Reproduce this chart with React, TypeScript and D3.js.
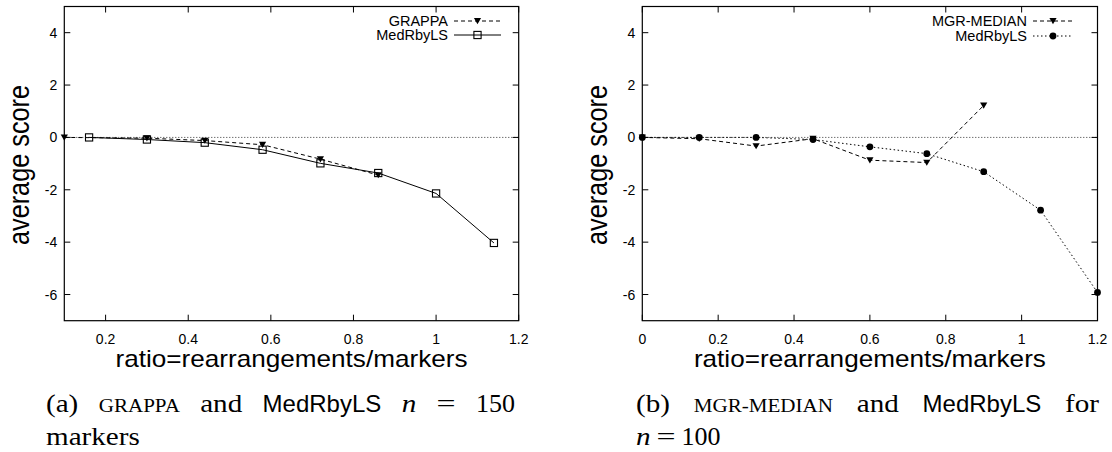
import React from "react";
import * as d3 from "d3";

// ---------- data ----------
const grappaX = [0.1, 0.3, 0.44, 0.58, 0.72, 0.86];
const grappaY = [0, -0.03, -0.12, -0.28, -0.83, -1.44];
const medLeftX = [0.16, 0.3, 0.44, 0.58, 0.72, 0.86, 1.0, 1.14];
const medLeftY = [0, -0.08, -0.2, -0.47, -0.99, -1.36, -2.14, -4.03];

const mgrX = [0, 0.15, 0.3, 0.45, 0.6, 0.75, 0.9];
const mgrY = [0, -0.05, -0.33, -0.05, -0.87, -0.96, 1.22];
const medRightX = [0, 0.15, 0.3, 0.45, 0.6, 0.75, 0.9, 1.05, 1.2];
const medRightY = [0, 0, 0, -0.08, -0.36, -0.62, -1.31, -2.78, -5.92];

const yTicks = [-6, -4, -2, 0, 2, 4];
const xTicksLeft = [0.2, 0.4, 0.6, 0.8, 1.0, 1.2];
const xTicksRight = [0, 0.2, 0.4, 0.6, 0.8, 1.0, 1.2];
const xTitle = "ratio=rearrangements/markers";
const yTitle = "average score";

const W = 1112;
const H = 452;
const SANS = "'Liberation Sans', Arial, Helvetica, sans-serif";
const SERIF = "'Liberation Serif', 'Times New Roman', Times, serif";

type Series = {
  name: string;
  xs: number[];
  ys: number[];
  dash: string;
  marker: "tri" | "sq" | "dot";
};

type Tok = { t: string; kind: "rm" | "sc" | "sf" | "it" };
const capA1: Tok[] = [
  { t: "(a)", kind: "rm" },
  { t: "GRAPPA", kind: "sc" },
  { t: "and", kind: "rm" },
  { t: "MedRbyLS", kind: "sf" },
  { t: "n", kind: "it" },
  { t: "=", kind: "rm" },
  { t: "150", kind: "rm" },
];
const capA2: Tok[] = [{ t: "markers", kind: "rm" }];
const capB1: Tok[] = [
  { t: "(b)", kind: "rm" },
  { t: "MGR-MEDIAN", kind: "sc" },
  { t: "and", kind: "rm" },
  { t: "MedRbyLS", kind: "sf" },
  { t: "for", kind: "rm" },
];
const capB2: Tok[] = [
  { t: "n", kind: "it" },
  { t: "=", kind: "rm" },
  { t: "100", kind: "rm" },
];

const tokFont = (k: string) => {
  if (k === "sc") return { family: SERIF, size: 19.5, style: "normal" };
  if (k === "sf") return { family: SANS, size: 24, style: "normal" };
  if (k === "it") return { family: SERIF, size: 26, style: "italic" };
  return { family: SERIF, size: 26, style: "normal" };
};
// Computer Modern is wider than Times: widen glyphs a little
const widen = (tok: Tok) => {
  if (tok.kind === "sf") return 1;
  if (/^[0-9]+$/.test(tok.t)) return 1.0;
  if (tok.t === "=") return 1.3;
  if (tok.kind === "sc") return 1.08;
  return 1.12;
};

let ctx: CanvasRenderingContext2D | null = null;
function measure(tok: Tok) {
  const f = tokFont(tok.kind);
  if (!ctx) {
    const c = document.createElement("canvas");
    ctx = c.getContext("2d");
  }
  if (!ctx) return tok.t.length * f.size * 0.5;
  ctx.font = `${f.style} ${f.size}px ${f.family}`;
  return ctx.measureText(tok.t).width;
}

function CaptionLine({
  toks,
  x0,
  x1,
  y,
  justify,
  gap,
}: {
  toks: Tok[];
  x0: number;
  x1: number;
  y: number;
  justify: boolean;
  gap: number;
}) {
  const nat = toks.map(measure);
  const widths = toks.map((tk, i) => nat[i] * widen(tk));
  const total = widths.reduce((a, b) => a + b, 0);
  const g = justify && toks.length > 1 ? (x1 - x0 - total) / (toks.length - 1) : gap;
  let cur = x0;
  return (
    <g>
      {toks.map((tk, i) => {
        const f = tokFont(tk.kind);
        const xx = cur;
        cur += widths[i] + g;
        return (
          <text
            key={i}
            x={xx}
            y={y}
            fontFamily={f.family}
            fontSize={f.size}
            fontStyle={f.style}
            textLength={widths[i]}
            lengthAdjust="spacingAndGlyphs"
          >
            {tk.t}
          </text>
        );
      })}
    </g>
  );
}

function Marker({ kind, x, y }: { kind: string; x: number; y: number }) {
  if (kind === "tri") {
    const s = 3.6;
    return (
      <path
        d={`M${x - s},${y - s * 0.8}L${x + s},${y - s * 0.8}L${x},${y + s * 0.9}Z`}
        fill="#000"
      />
    );
  }
  if (kind === "sq") {
    return (
      <rect x={x - 3.6} y={y - 3.6} width={7.2} height={7.2} fill="none" stroke="#000" strokeWidth={1.1} />
    );
  }
  return <circle cx={x} cy={y} r={3.4} fill="#000" />;
}

function Panel({
  x0,
  x1,
  domain,
  xTicks,
  series,
  legendRight,
  legendSampleW,
  legendRows,
  titleOffset,
}: {
  x0: number;
  x1: number;
  domain: [number, number];
  xTicks: number[];
  series: Series[];
  legendRight: number;
  legendSampleW: number;
  legendRows: number[];
  titleOffset: number;
}) {
  const y0 = 320.7;
  const yTop = 6.5;
  const x = d3.scaleLinear().domain(domain).range([x0, x1]);
  const y = d3.scaleLinear().domain([-7, 5]).range([y0, yTop]);
  const line = d3
    .line<[number, number]>()
    .x((d) => x(d[0]))
    .y((d) => y(d[1]));
  const tl = 6;
  const fmt = (v: number) => (v === 0 ? "0" : v === 1 ? "1" : d3.format("")(v));
  const cx = (x0 + x1) / 2;
  return (
    <g>
      <line x1={x0} x2={x1} y1={y(0)} y2={y(0)} stroke="#000" strokeWidth={0.8} strokeDasharray="1,2" />
      {yTicks.map((t) => (
        <g key={"y" + t}>
          <line x1={x0} x2={x0 + tl} y1={y(t)} y2={y(t)} stroke="#000" />
          <line x1={x1} x2={x1 - tl} y1={y(t)} y2={y(t)} stroke="#000" />
          <text x={x0 - 7} y={y(t)} dy="0.36em" textAnchor="end" fontFamily={SANS} fontSize={14}>
            {t}
          </text>
        </g>
      ))}
      {xTicks.map((t) => (
        <g key={"x" + t}>
          <line x1={x(t)} x2={x(t)} y1={y0} y2={y0 - tl} stroke="#000" />
          <line x1={x(t)} x2={x(t)} y1={yTop} y2={yTop + tl} stroke="#000" />
          <text x={x(t)} y={344} textAnchor="middle" fontFamily={SANS} fontSize={14}>
            {fmt(t)}
          </text>
        </g>
      ))}
      <rect x={x0} y={yTop} width={x1 - x0} height={y0 - yTop} fill="none" stroke="#000" strokeWidth={1.2} />
      {series.map((s, i) => {
        const pts = s.xs.map((v, j) => [v, s.ys[j]] as [number, number]);
        return (
          <g key={s.name + i}>
            <path d={line(pts) || ""} fill="none" stroke="#000" strokeWidth={1} strokeDasharray={s.dash} />
            {pts.map((p, j) => (
              <Marker key={j} kind={s.marker} x={x(p[0])} y={y(p[1])} />
            ))}
          </g>
        );
      })}
      {series.map((s, i) => {
        const ly = legendRows[i];
        const sx0 = legendRight - legendSampleW;
        return (
          <g key={"lg" + i}>
            <text x={sx0 - 6} y={ly} dy="0.35em" textAnchor="end" fontFamily={SANS} fontSize={14.5}>
              {s.name}
            </text>
            <line x1={sx0} x2={legendRight} y1={ly} y2={ly} stroke="#000" strokeDasharray={s.dash} />
            <Marker kind={s.marker} x={sx0 + legendSampleW / 2} y={ly} />
          </g>
        );
      })}
      <text
        x={cx}
        y={367}
        textAnchor="middle"
        fontFamily={SANS}
        fontSize={24}
        textLength={352}
        lengthAdjust="spacingAndGlyphs"
      >
        {xTitle}
      </text>
      <text
        transform={`translate(${x0 - titleOffset},${165}) rotate(-90)`}
        textAnchor="middle"
        fontFamily={SANS}
        fontSize={29}
        textLength={160}
        lengthAdjust="spacingAndGlyphs"
      >
        {yTitle}
      </text>
    </g>
  );
}

export default function App() {
  const leftSeries: Series[] = [
    { name: "GRAPPA", xs: grappaX, ys: grappaY, dash: "4,3", marker: "tri" },
    { name: "MedRbyLS", xs: medLeftX, ys: medLeftY, dash: "", marker: "sq" },
  ];
  const rightSeries: Series[] = [
    { name: "MGR-MEDIAN", xs: mgrX, ys: mgrY, dash: "4,3", marker: "tri" },
    { name: "MedRbyLS", xs: medRightX, ys: medRightY, dash: "1.5,2.5", marker: "dot" },
  ];
  const l1 = 412;
  const l2 = 445;
  return (
    <svg width={W} height={H} style={{ position: "absolute", left: 0, top: 0, background: "#fff" }}>
      <rect width={W} height={H} fill="#fff" />
      <Panel
        x0={64.3}
        x1={518.7}
        domain={[0.1, 1.2]}
        xTicks={xTicksLeft}
        series={leftSeries}
        legendRight={501}
        legendSampleW={47}
        legendRows={[21, 35]}
        titleOffset={35}
      />
      <Panel
        x0={642.3}
        x1={1097.5}
        domain={[0, 1.2]}
        xTicks={xTicksRight}
        series={rightSeries}
        legendRight={1073}
        legendSampleW={40}
        legendRows={[21, 36]}
        titleOffset={35}
      />
      <CaptionLine toks={capA1} x0={46} x1={515} y={l1} justify={true} gap={0} />
      <CaptionLine toks={capA2} x0={46} x1={515} y={l2} justify={false} gap={0} />
      <CaptionLine toks={capB1} x0={636} x1={1099} y={l1} justify={true} gap={0} />
      <CaptionLine toks={capB2} x0={636} x1={1099} y={l2} justify={false} gap={6} />
    </svg>
  );
}
